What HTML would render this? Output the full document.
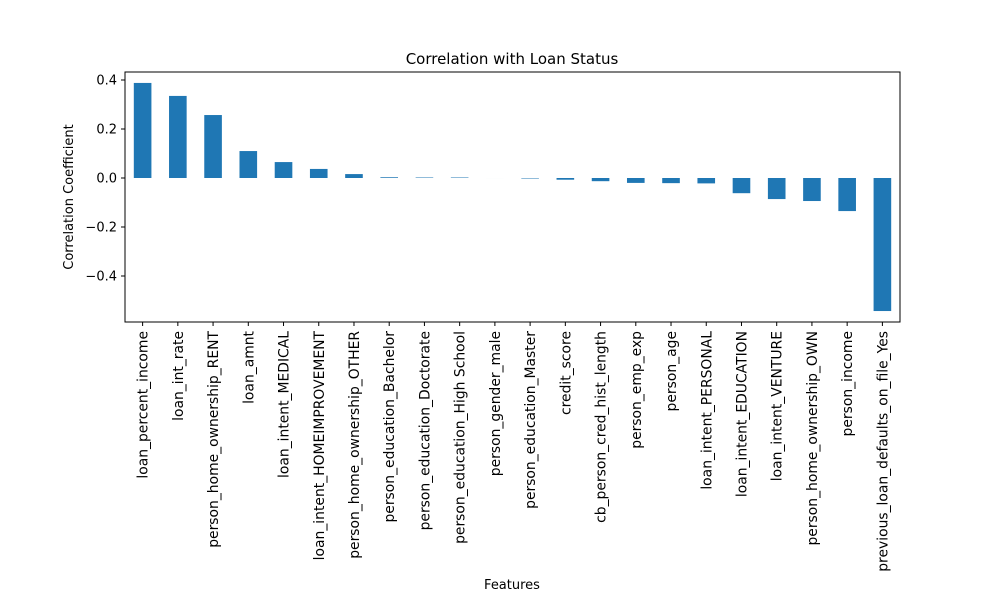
<!DOCTYPE html>
<html><head><meta charset="utf-8"><style>
body{margin:0;background:#fff;font-family:"Liberation Sans","DejaVu Sans",sans-serif;}
svg text{font-family:"DejaVu Sans","Liberation Sans",sans-serif;}
</style></head><body>
<svg id="chart" width="1000" height="600" xmlns="http://www.w3.org/2000/svg">
<rect width="1000" height="600" fill="#fff"/>
<text x="512" y="64" font-size="15" text-anchor="middle">Correlation with Loan Status</text>
<text x="512" y="589" font-size="13" text-anchor="middle">Features</text>
<text transform="translate(73,197) rotate(-90)" font-size="13" text-anchor="middle">Correlation Coefficient</text>
<g id="bars"></g><g id="axes"></g>
<rect x="125" y="72" width="775" height="250" fill="none" stroke="#000" stroke-width="1"/>
</svg>
<script>
const categories=["loan_percent_income","loan_int_rate","person_home_ownership_RENT","loan_amnt","loan_intent_MEDICAL","loan_intent_HOMEIMPROVEMENT","person_home_ownership_OTHER","person_education_Bachelor","person_education_Doctorate","person_education_High School","person_gender_male","person_education_Master","credit_score","cb_person_cred_hist_length","person_emp_exp","person_age","loan_intent_PERSONAL","loan_intent_EDUCATION","loan_intent_VENTURE","person_home_ownership_OWN","person_income","previous_loan_defaults_on_file_Yes"];
const values=[0.388,0.335,0.257,0.11,0.065,0.037,0.016,0.003,0.002,0.002,0.0,-0.002,-0.007,-0.013,-0.02,-0.021,-0.022,-0.062,-0.086,-0.094,-0.135,-0.543];
const yTicks=[0.4,0.2,0.0,-0.2,-0.4];
const NS="http://www.w3.org/2000/svg";
const L=125,R=900;
const y=v=>178-v*245;
const step=(R-L)/categories.length;
const x=i=>L+step*(i+0.5);
const bars=document.getElementById('bars'),axes=document.getElementById('axes');
function mk(t,a,p){const e=document.createElementNS(NS,t);for(const k in a)e.setAttribute(k,a[k]);p.appendChild(e);return e;}
values.forEach((v,i)=>{
 const r=mk('rect',{x:x(i)-step*0.25,y:Math.min(y(v),y(0)),width:step*0.5,height:Math.max(Math.abs(y(v)-y(0)),0.01),fill:'#1f77b4'},bars);
 
 
 const tk=mk('line',{x1:x(i),x2:x(i),y1:322,y2:326,stroke:'#000'},axes);
 
 
 const t=mk('text',{transform:`translate(${x(i)+5},331) rotate(-90)`,'font-size':'13.9','text-anchor':'end'},axes);
 t.textContent=categories[i];
 
 
});
yTicks.forEach(v=>{
 const tk=mk('line',{x1:121,x2:125,y1:y(v),y2:y(v),stroke:'#000'},axes);
 
 
 const t=mk('text',{x:117,y:y(v)+4.5,'font-size':'13','text-anchor':'end'},axes);
 t.textContent=v.toFixed(1).replace('-','\u2212');
 
 
});
</script>
</body></html>
